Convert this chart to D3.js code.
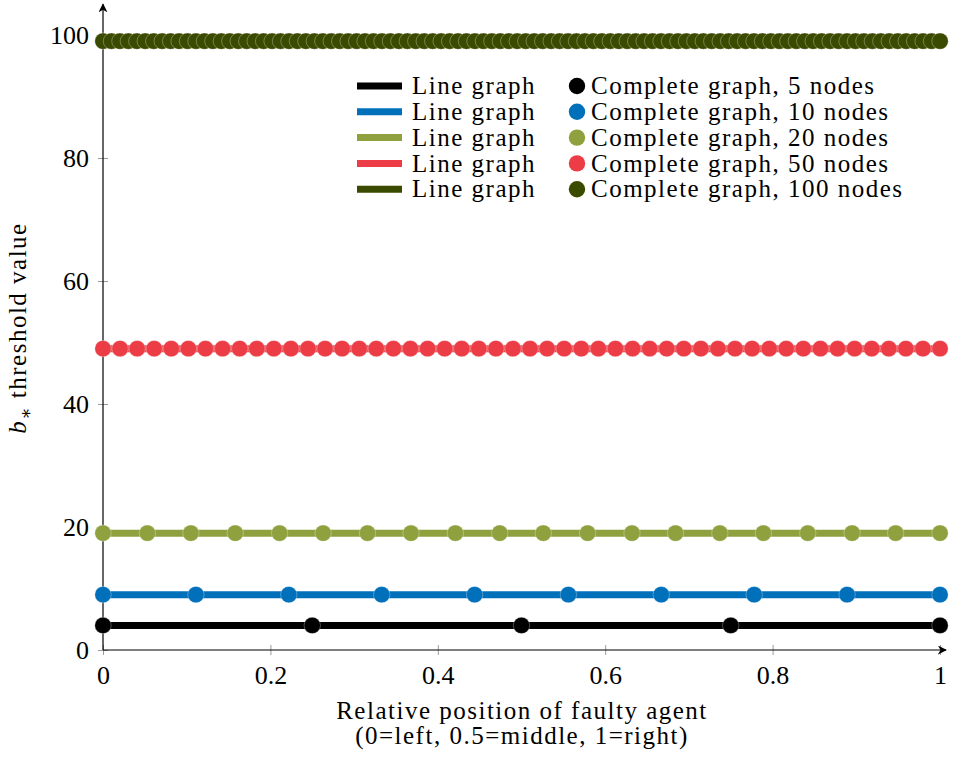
<!DOCTYPE html>
<html>
<head>
<meta charset="utf-8">
<script src="https://cdn.jsdelivr.net/npm/d3@7"></script>
<style>
  body { margin: 0; background: #fff; }
</style>
</head>
<body>
<div id="chart"></div>
<script>
// Series labels and colours
const seriesNames = ['5 nodes', '10 nodes', '20 nodes', '50 nodes', '100 nodes'];
const seriesColors = ['#000000', '#0070bb', '#8fa13f', '#ec3d46', '#3a4b00'];

// b* threshold value per series (line graph and complete graph coincide)
const thresholdValues = [4, 9, 19, 49, 99];

// Line graph: drawn across the whole range
const lineX = [0, 1];

// Complete graph: relative positions of faulty agent, one list per series
const x5 = [0, 0.25, 0.5, 0.75, 1];
const x10 = [0, 0.111, 0.222, 0.333, 0.444, 0.556, 0.667, 0.778, 0.889, 1];
const x20 = [0, 0.053, 0.105, 0.158, 0.211, 0.263, 0.316, 0.368, 0.421, 0.474,
  0.526, 0.579, 0.632, 0.684, 0.737, 0.789, 0.842, 0.895, 0.947, 1];
const x50 = [0, 0.0204, 0.0408, 0.0612, 0.0816, 0.102, 0.1224, 0.1429, 0.1633, 0.1837,
  0.2041, 0.2245, 0.2449, 0.2653, 0.2857, 0.3061, 0.3265, 0.3469, 0.3673, 0.3878,
  0.4082, 0.4286, 0.449, 0.4694, 0.4898, 0.5102, 0.5306, 0.551, 0.5714, 0.5918,
  0.6122, 0.6327, 0.6531, 0.6735, 0.6939, 0.7143, 0.7347, 0.7551, 0.7755, 0.7959,
  0.8163, 0.8367, 0.8571, 0.8776, 0.898, 0.9184, 0.9388, 0.9592, 0.9796, 1];
const x100 = [0, 0.0101, 0.0202, 0.0303, 0.0404, 0.0505, 0.0606, 0.0707, 0.0808, 0.0909,
  0.1010, 0.1111, 0.1212, 0.1313, 0.1414, 0.1515, 0.1616, 0.1717, 0.1818, 0.1919,
  0.2020, 0.2121, 0.2222, 0.2323, 0.2424, 0.2525, 0.2626, 0.2727, 0.2828, 0.2929,
  0.3030, 0.3131, 0.3232, 0.3333, 0.3434, 0.3535, 0.3636, 0.3737, 0.3838, 0.3939,
  0.4040, 0.4141, 0.4242, 0.4343, 0.4444, 0.4545, 0.4646, 0.4747, 0.4848, 0.4949,
  0.5051, 0.5152, 0.5253, 0.5354, 0.5455, 0.5556, 0.5657, 0.5758, 0.5859, 0.5960,
  0.6061, 0.6162, 0.6263, 0.6364, 0.6465, 0.6566, 0.6667, 0.6768, 0.6869, 0.6970,
  0.7071, 0.7172, 0.7273, 0.7374, 0.7475, 0.7576, 0.7677, 0.7778, 0.7879, 0.7980,
  0.8081, 0.8182, 0.8283, 0.8384, 0.8485, 0.8586, 0.8687, 0.8788, 0.8889, 0.8990,
  0.9091, 0.9192, 0.9293, 0.9394, 0.9495, 0.9596, 0.9697, 0.9798, 0.9899, 1];
const completeX = [x5, x10, x20, x50, x100];

// Tick labels
const xTicks = [0, 0.2, 0.4, 0.6, 0.8, 1];
const yTicks = [0, 20, 40, 60, 80, 100];

const FONT = "'Liberation Serif', 'DejaVu Serif', serif";
const LABEL_SIZE = 25;
const SPACING = '1.5px';   // widen Liberation Serif towards Computer Modern widths

const width = 953, height = 759;
const svg = d3.select('#chart').append('svg')
  .attr('width', width)
  .attr('height', height)
  .style('font-family', FONT);

// Scales
const xScale = d3.scaleLinear().domain([0, 1]).range([103, 940]);
const yScale = d3.scaleLinear().domain([0, 100]).range([650, 35]);
const yTop = 105;

// Arrow marker for axes
svg.append('defs').append('marker')
  .attr('id', 'arrow')
  .attr('viewBox', '0 0 10 10')
  .attr('refX', 9).attr('refY', 5)
  .attr('markerWidth', 9).attr('markerHeight', 9)
  .attr('markerUnits', 'userSpaceOnUse')
  .attr('orient', 'auto')
  .append('path')
  .attr('d', 'M0,0 L10,5 L0,10 L3,5 Z')
  .attr('fill', '#000');

// Axes
const xAxis = d3.axisBottom(xScale).tickValues(xTicks).tickSize(0).tickFormat(d3.format('~g'));
const yAxis = d3.axisLeft(yScale).tickValues(yTicks).tickSize(0).tickFormat(d3.format('d'));

const gx = svg.append('g').attr('transform', `translate(0,${yScale(0)})`).call(xAxis);
const gy = svg.append('g').attr('transform', `translate(${xScale(0)},0)`).call(yAxis);

[gx, gy].forEach(g => {
  g.attr('font-family', FONT).attr('font-size', 26);
  g.select('.domain').remove();
  g.selectAll('text').attr('fill', '#000');
});
gx.selectAll('text').attr('dy', null).attr('y', 34);
gy.selectAll('text').attr('dy', '0.34em').attr('x', -14);

// grey tick marks crossing the axes
gx.selectAll('.tick').append('line')
  .attr('y1', -5).attr('y2', 5)
  .attr('stroke', '#9a9a9a').attr('stroke-width', 1);
gy.selectAll('.tick').append('line')
  .attr('x1', -5).attr('x2', 5)
  .attr('stroke', '#9a9a9a').attr('stroke-width', 1);

// axis lines with arrows
svg.append('line')
  .attr('x1', xScale(0)).attr('x2', xScale(1) + 6)
  .attr('y1', yScale(0)).attr('y2', yScale(0))
  .attr('stroke', '#000').attr('stroke-width', 1.2)
  .attr('marker-end', 'url(#arrow)');
svg.append('line')
  .attr('x1', xScale(0)).attr('x2', xScale(0))
  .attr('y1', yScale(0)).attr('y2', yScale(yTop))
  .attr('stroke', '#000').attr('stroke-width', 1.2)
  .attr('marker-end', 'url(#arrow)');

// Series: line graph then complete-graph markers
const line = d3.line().x(d => xScale(d[0])).y(d => yScale(d[1]));

thresholdValues.forEach((v, i) => {
  svg.append('path')
    .datum(lineX.map(x => [x, v]))
    .attr('d', line)
    .attr('fill', 'none')
    .attr('stroke', seriesColors[i])
    .attr('stroke-width', 7);

  svg.append('g').selectAll('circle')
    .data(completeX[i])
    .enter()
    .append('circle')
    .attr('cx', d => xScale(d))
    .attr('cy', yScale(v))
    .attr('r', 8.2)
    .attr('fill', seriesColors[i])
    .attr('stroke', '#ffffff')
    .attr('stroke-opacity', 0.5)
    .attr('stroke-width', 0.6);
});

// Legend
const legend = svg.append('g').attr('transform', 'translate(357,86)');
const rowH = 25.8;
seriesNames.forEach((name, i) => {
  const row = legend.append('g').attr('transform', `translate(0,${i * rowH})`);
  row.append('line')
    .attr('x1', 0).attr('x2', 45)
    .attr('stroke', seriesColors[i]).attr('stroke-width', 7);
  row.append('text')
    .attr('x', 55).attr('y', 0).attr('dy', '0.33em')
    .attr('font-size', LABEL_SIZE)
    .attr('letter-spacing', SPACING)
    .text('Line graph');
  row.append('circle')
    .attr('cx', 220).attr('cy', 0).attr('r', 8.2)
    .attr('fill', seriesColors[i]);
  row.append('text')
    .attr('x', 234).attr('y', 0).attr('dy', '0.33em')
    .attr('font-size', LABEL_SIZE)
    .attr('letter-spacing', SPACING)
    .text('Complete graph, ' + name);
});

// Axis labels
svg.append('text')
  .attr('x', 522).attr('y', 719)
  .attr('text-anchor', 'middle')
  .attr('font-size', LABEL_SIZE)
  .attr('letter-spacing', SPACING)
  .text('Relative position of faulty agent');
svg.append('text')
  .attr('x', 522).attr('y', 744)
  .attr('text-anchor', 'middle')
  .attr('font-size', LABEL_SIZE)
  .attr('letter-spacing', SPACING)
  .text('(0=left, 0.5=middle, 1=right)');

const yLabel = svg.append('text')
  .attr('transform', 'translate(26,328) rotate(-90)')
  .attr('text-anchor', 'middle')
  .attr('font-size', LABEL_SIZE)
  .attr('letter-spacing', SPACING);
yLabel.append('tspan').attr('font-style', 'italic').text('b');
yLabel.append('tspan').attr('font-size', 18).attr('dy', 6).text('∗');
yLabel.append('tspan').attr('dy', -6).text(' threshold value');
</script>
</body>
</html>
